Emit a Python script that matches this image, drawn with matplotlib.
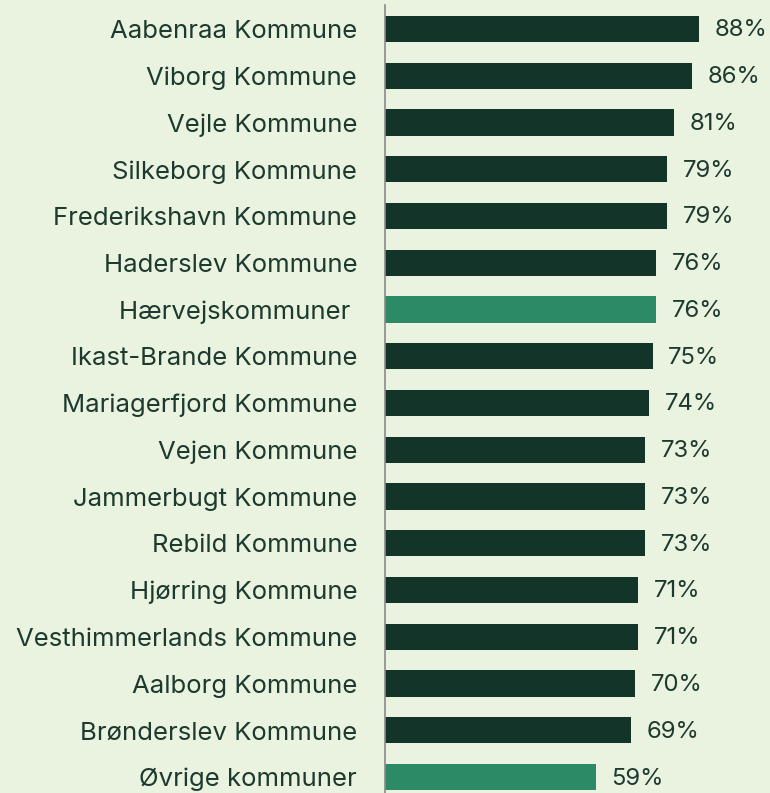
import numpy as np
import matplotlib.pyplot as plt

names = ["Aabenraa Kommune", "Viborg Kommune", "Vejle Kommune", "Silkeborg Kommune",
         "Frederikshavn Kommune", "Haderslev Kommune", "Hærvejskommuner ",
         "Ikast-Brande Kommune", "Mariagerfjord Kommune", "Vejen Kommune",
         "Jammerbugt Kommune", "Rebild Kommune", "Hjørring Kommune",
         "Vesthimmerlands Kommune", "Aalborg Kommune", "Brønderslev Kommune",
         "Øvrige kommuner"]
values = [88, 86, 81, 79, 79, 76, 76, 75, 74, 73, 73, 73, 71, 71, 70, 69, 59]
highlight = ["Hærvejskommuner ", "Øvrige kommuner"]

bg = "#eaf2e0"
dark = "#133529"
light = "#2c8a66"
txt = "#1d3a2e"

plt.rcParams['font.family'] = ['Inter', 'DejaVu Sans']

fig = plt.figure(figsize=(7.7, 7.93), dpi=100, facecolor=bg)
ax = fig.add_axes([385/770, 0, 385/770, 788/793], facecolor=bg)

y = np.arange(len(names))
cols = [light if n in highlight else dark for n in names]
ax.barh(y, values, height=0.56, color=cols)

for i, v in enumerate(values):
    ax.text(v + 4.4, i + 0.03, f"{v}%", va="center", ha="left", fontsize=17.2, color=txt)

ax.set_yticks(y)
ax.set_yticklabels(names, fontsize=18.5, color=txt)
ax.tick_params(axis="y", length=0, pad=20)
ax.set_xticks([])
ax.set_xlim(0, 107.9)
ax.set_ylim(16.34, -0.513)
for s in ["top", "right", "bottom"]:
    ax.spines[s].set_visible(False)
ax.spines["left"].set_color("#8a8a8a")
ax.spines["left"].set_linewidth(1.2)

fig.savefig("out.png", dpi=100, facecolor=bg)
